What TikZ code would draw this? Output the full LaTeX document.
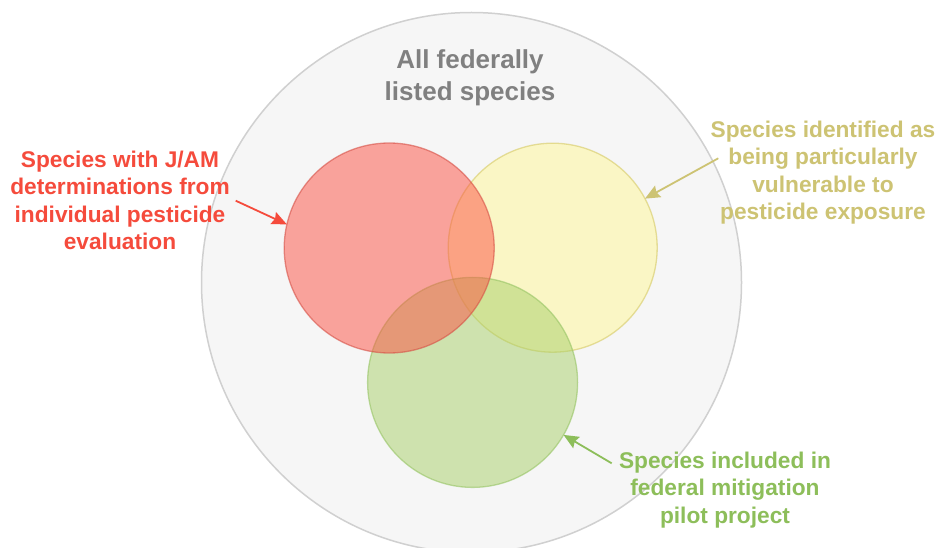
\documentclass[tikz,border=0pt]{standalone}
\usepackage{fontspec}
\setmainfont{Liberation Sans}
\usetikzlibrary{arrows.meta}

\definecolor{bgfill}{RGB}{246,246,246}
\definecolor{bgline}{RGB}{208,208,208}
\definecolor{redfill}{RGB}{252,80,66}
\definecolor{redline}{RGB}{214,80,70}
\definecolor{yelfill}{RGB}{254,246,150}
\definecolor{yelline}{RGB}{214,202,100}
\definecolor{grnfill}{RGB}{168,208,104}
\definecolor{grnline}{RGB}{150,196,100}
\definecolor{redtext}{RGB}{245,75,60}
\definecolor{yeltext}{RGB}{205,195,115}
\definecolor{grntext}{RGB}{141,190,90}
\definecolor{titletext}{RGB}{128,128,128}

\tikzset{
  setcircle/.style={circle, inner sep=0pt, outer sep=0pt, minimum size=#1,
    line width=1.3pt, fill opacity=0.5, draw opacity=0.6},
  labeltext/.style={align=center, inner sep=0pt,
    font=\bfseries\fontsize{22.7}{27.4}\selectfont},
  pointer/.style={line width=1.8pt,
    -{Stealth[length=15pt,width=13pt,inset=2pt]}}
}

\begin{document}
\begin{tikzpicture}[x=1pt,y=-1pt]
  \useasboundingbox (0,0) rectangle (940,548);
  \fill[white] (0,0) rectangle (940,548);

  % outer set: all listed species
  \node[circle, inner sep=0pt, minimum size=540pt, fill=bgfill, draw=bgline,
        line width=1.5pt] (allc) at (471.5,282.5) {};

  % overlapping subsets (yellow first, then green, red on top)
  \node[setcircle=209pt, fill=yelfill, draw=yelline] (yelc) at (552.7,247.7) {};
  \node[setcircle=210pt, fill=grnfill, draw=grnline] (grnc) at (472.6,382.4) {};
  \node[setcircle=210pt, fill=redfill, draw=redline] (redc) at (389.2,248) {};

  % titles and labels
  \node[align=center, inner sep=0pt, text=titletext,
        font=\bfseries\fontsize{26}{31.7}\selectfont] (title) at (470,77.5)
        {All federally\\listed species};
  \node[labeltext, text=redtext] (redlbl) at (120,200.5)
        {Species with J/AM\\determinations from\\individual pesticide\\evaluation};
  \node[labeltext, text=yeltext] (yellbl) at (823,172.5)
        {Species identified as\\being particularly\\vulnerable to\\pesticide exposure};
  \node[labeltext, text=grntext] (grnlbl) at (725,490)
        {Species included in\\federal mitigation\\pilot project};

  % pointers from labels to their circles
  \coordinate (redtail) at (235.7,200.7);
  \coordinate (yeltail) at (718.3,158.3);
  \coordinate (grntail) at (611.7,463.3);
  \draw[pointer, redtext] (redtail) -- (redc.167);
  \draw[pointer, yeltext] (yeltail) -- (yelc.28);
  \draw[pointer, grntext] (grntail) -- (grnc.-30);
\end{tikzpicture}
\end{document}
